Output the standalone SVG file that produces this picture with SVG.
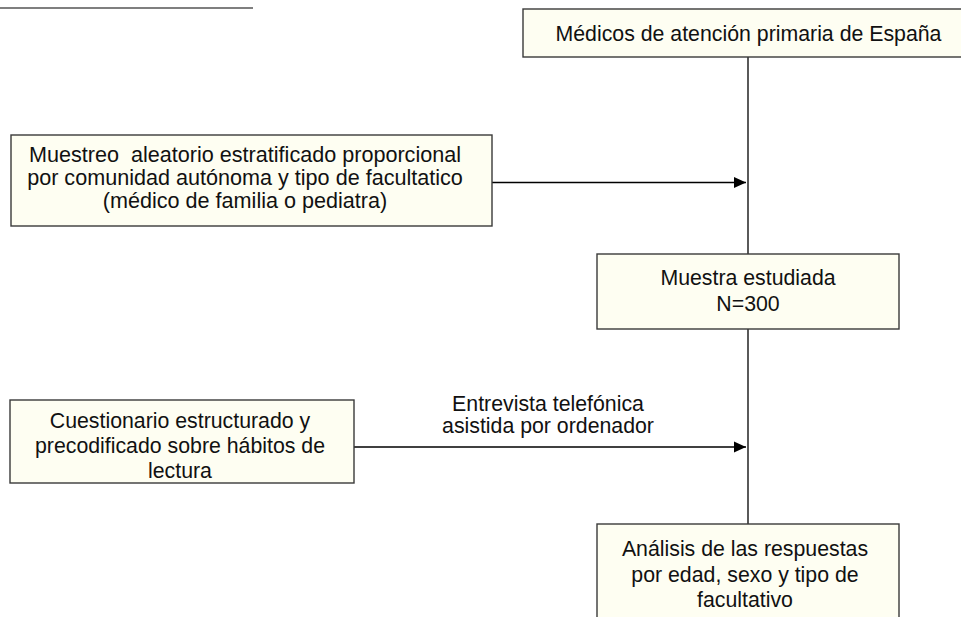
<svg xmlns="http://www.w3.org/2000/svg" width="961" height="617" viewBox="0 0 961 617">
<style>
.box{fill:#fefef2;stroke:#3a3a3a;stroke-width:1.4}
.t{font-family:"Liberation Sans",Arial,Helvetica,sans-serif;font-size:21.3px;fill:#111;text-anchor:middle}
.m{font-size:21.6px}
.c{stroke:#000;stroke-width:1.3;fill:none}
</style>
<defs>
<marker id="ah" markerWidth="13" markerHeight="13" viewBox="0 0 13 13" refX="12" refY="6.5" orient="auto" markerUnits="userSpaceOnUse">
<path d="M0,1 L12,6.5 L0,12 Z" fill="#000"/>
</marker>
</defs>
<line x1="0" y1="8" x2="253" y2="8" stroke="#555" stroke-width="1.5"/>
<g id="connectors">
<line class="c" x1="748" y1="57" x2="748" y2="254"/>
<line class="c" x1="748" y1="329" x2="748" y2="524"/>
<line class="c" x1="492" y1="182.5" x2="746" y2="182.5" marker-end="url(#ah)"/>
<line class="c" x1="354" y1="447" x2="746" y2="447" marker-end="url(#ah)"/>
<text class="t" x="548" y="411">Entrevista telefónica</text>
<text class="t" x="548" y="433">asistida por ordenador</text>
</g>
<g id="n-medicos">
<rect class="box" x="523" y="9" width="450" height="48"/>
<text class="t" x="748.5" y="41">Médicos de atención primaria de España</text>
</g>
<g id="n-muestreo">
<rect class="box" x="11" y="135" width="481" height="91"/>
<text class="t m" x="245" y="162" xml:space="preserve">Muestreo  aleatorio estratificado proporcional</text>
<text class="t m" x="245" y="185">por comunidad autónoma y tipo de facultatico</text>
<text class="t m" x="245" y="208">(médico de familia o pediatra)</text>
</g>
<g id="n-muestra">
<rect class="box" x="597" y="254" width="302" height="75"/>
<text class="t" x="748" y="285">Muestra estudiada</text>
<text class="t" x="748" y="311">N=300</text>
</g>
<g id="n-cuestionario">
<rect class="box" x="10" y="400" width="344" height="83"/>
<text class="t" x="180" y="427.5">Cuestionario estructurado y</text>
<text class="t" x="180" y="452.5">precodificado sobre hábitos de</text>
<text class="t" x="180" y="477.5">lectura</text>
</g>
<g id="n-analisis">
<rect class="box" x="597" y="524" width="302" height="120"/>
<text class="t" x="745" y="556">Análisis de las respuestas</text>
<text class="t" x="745" y="581.5">por edad, sexo y tipo de</text>
<text class="t" x="745" y="607">facultativo</text>
</g>
</svg>
